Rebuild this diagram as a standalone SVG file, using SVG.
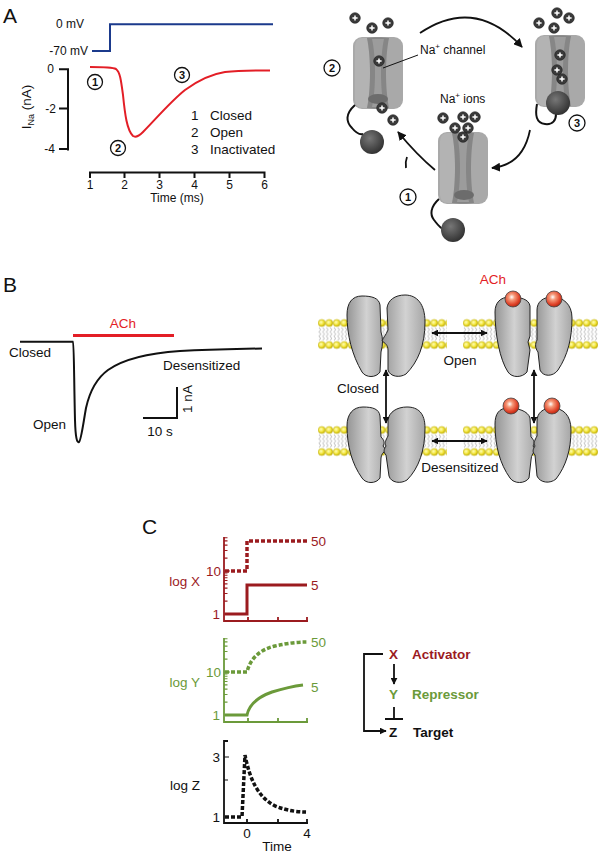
<svg xmlns="http://www.w3.org/2000/svg" xmlns:xlink="http://www.w3.org/1999/xlink" width="600" height="854" viewBox="0 0 600 854">
<style>
text{font-family:"Liberation Sans",Arial,sans-serif;fill:#111}
.lbl{font-size:21px}
.t12{font-size:12px}
.t13{font-size:13.5px}
.circ{font-size:11px;font-weight:bold;text-anchor:middle}
.cnum{fill:#fff;stroke:#111;stroke-width:1.3}
.ax{fill:none;stroke:#111;stroke-width:2}
.conn{fill:none;stroke:#111;stroke-width:1.8}
.sub{fill:url(#subg);stroke:#222;stroke-width:1}
.ach{fill:url(#achg);stroke:#444;stroke-width:0.8}
.red{fill:#e31e26}
.dred{fill:#9b1b1f}
.grn{fill:#6b9a3a}
</style>
<defs>
<marker id="ah" viewBox="0 0 10 10" refX="9" refY="5" markerWidth="9" markerHeight="9" markerUnits="userSpaceOnUse" orient="auto-start-reverse"><path d="M0,0 L10,5 L0,10 z" fill="#111"/></marker>
<marker id="ahs" viewBox="0 0 10 10" refX="9" refY="5" markerWidth="7" markerHeight="7" markerUnits="userSpaceOnUse" orient="auto-start-reverse"><path d="M0,0 L10,5 L0,10 z" fill="#111"/></marker>
<linearGradient id="subg" x1="0" y1="0" x2="1" y2="0"><stop offset="0" stop-color="#959595"/><stop offset="0.55" stop-color="#d2d2d2"/><stop offset="1" stop-color="#a6a6a6"/></linearGradient>
<radialGradient id="achg" cx="0.42" cy="0.38" r="0.62"><stop offset="0" stop-color="#ffffff"/><stop offset="0.3" stop-color="#f59a7a"/><stop offset="0.75" stop-color="#e0442a"/><stop offset="1" stop-color="#b82a14"/></radialGradient>
<radialGradient id="headg" cx="0.4" cy="0.4" r="0.6"><stop offset="0" stop-color="#ffffc0"/><stop offset="0.6" stop-color="#f3e53a"/><stop offset="1" stop-color="#c9b600"/></radialGradient>
<radialGradient id="ballg" cx="0.4" cy="0.35" r="0.65"><stop offset="0" stop-color="#777"/><stop offset="1" stop-color="#333"/></radialGradient>
<pattern id="heads" patternUnits="userSpaceOnUse" width="7.5" height="9"><circle cx="3.75" cy="4.5" r="3.5" fill="url(#headg)" stroke="#b5a300" stroke-width="0.5"/></pattern>
<pattern id="tails" patternUnits="userSpaceOnUse" width="3.75" height="13"><path d="M1,0 l1.6,2.2 l-1.6,2.2 l1.6,2.2 l-1.6,2.2 l1.6,2.2 l-1.6,2" fill="none" stroke="#8a8a8a" stroke-width="0.6"/></pattern>
<g id="chanbody">
<rect x="0" y="0" width="50" height="72" rx="9" fill="#a9a9a9"/>
<path d="M2,10 C2,4 5,1 10,1 L14,1 C18,20 18,52 14,71 L10,71 C5,71 2,68 2,62 Z" fill="#b3b3b3"/>
<path d="M14,1 C20,0 30,0 36,1 C32,20 32,52 36,71 C30,72 20,72 14,71 C18,52 18,20 14,1Z" fill="#868686"/>
<path d="M19,2 L31,2 C27,20 27,52 31,70 L19,70 C23,52 23,20 19,2Z" fill="#9c9c9c"/>
</g>
<g id="ion"><circle r="5.3" fill="#3a3a3a" stroke="#1e1e1e" stroke-width="0.6"/><path d="M-2.6,0 H2.6 M0,-2.6 V2.6" stroke="#fff" stroke-width="1.5"/></g>
<g id="logaxis" fill="none" stroke="currentColor" stroke-width="1.8">
<path d="M224,537 V621 H308 M248,621 v-4 M278,621 v-4 M307,621 v-4"/>
<path stroke-width="1.1" d="M224,614h6 M224,571h6 M224,601.1h3.5 M224,593.5h3.5 M224,588.1h3.5 M224,583.9h3.5 M224,580.5h3.5 M224,577.7h3.5 M224,575.2h3.5 M224,573h3.5 M224,558.1h3.5 M224,550.5h3.5 M224,545.1h3.5 M224,540.9h3.5 M224,537.8h3.5"/>
</g>
</defs>
<rect width="600" height="854" fill="#fff"/>

<!-- Panel A left -->
<g id="panelA-plot">
<text class="lbl" x="3" y="23">A</text>
<text class="t12" x="84" y="28" text-anchor="end">0 mV</text>
<text class="t12" x="88" y="55" text-anchor="end">-70 mV</text>
<path d="M92,51 H110 V24.3 H273" fill="none" stroke="#1b3a8c" stroke-width="2"/>
<path class="ax" d="M59,69.3 H68 V150.5 M59,108.5 H68 M59,149 H68"/>
<text class="t12" x="54" y="73" text-anchor="end">0</text>
<text class="t12" x="56" y="113" text-anchor="end">-2</text>
<text class="t12" x="55" y="153" text-anchor="end">-4</text>
<text class="t13" transform="translate(31,107) rotate(-90)" text-anchor="middle">I<tspan font-size="9" dy="3">Na</tspan><tspan dy="-3"> (nA)</tspan></text>
<path d="M90,67 C100,67 112,67 116,69 C120,72 121,80 123,95 C125,115 127,130 133,136 C136,138 139,136 143,132 C155,120 170,102 185,90 C200,79 212,74 225,72 C240,70.5 255,70.5 270,70.5" fill="none" stroke="#e31e26" stroke-width="2"/>
<circle class="cnum" cx="95" cy="82" r="7.5"/><text class="circ" x="95" y="86">1</text>
<circle class="cnum" cx="118" cy="148" r="7.5"/><text class="circ" x="118" y="152">2</text>
<circle class="cnum" cx="182" cy="75" r="7.5"/><text class="circ" x="182" y="79">3</text>
<text class="t13" x="191" y="120">1</text><text class="t13" x="210" y="120">Closed</text>
<text class="t13" x="191" y="137">2</text><text class="t13" x="210" y="137">Open</text>
<text class="t13" x="191" y="154">3</text><text class="t13" x="210" y="154">Inactivated</text>
<path class="ax" d="M90,178 V172.5 H264.5 V178 M124.5,172.5 V178 M159.5,172.5 V178 M194.5,172.5 V178 M229.5,172.5 V178"/>
<g class="t12" text-anchor="middle">
<text class="t12" x="90" y="189" text-anchor="middle">1</text>
<text class="t12" x="124.5" y="189" text-anchor="middle">2</text>
<text class="t12" x="159.5" y="189" text-anchor="middle">3</text>
<text class="t12" x="194.5" y="189" text-anchor="middle">4</text>
<text class="t12" x="229.5" y="189" text-anchor="middle">5</text>
<text class="t12" x="264.5" y="189" text-anchor="middle">6</text>
</g>
<text class="t12" x="177" y="202" text-anchor="middle">Time (ms)</text>
</g>

<!-- Panel A right: channel cycle -->
<g id="connectors-A">
<path class="conn" d="M420,33 Q475,-4 522,47" marker-end="url(#ah)"/>
<path class="conn" d="M530,130 Q523,165 492,168" marker-end="url(#ah)"/>
<path class="conn" d="M435,170 Q417,155 398,132" marker-end="url(#ah)"/>
<path class="conn" d="M406,168 Q405,162 407,157"/>
</g>
<g id="channel-open">
<use href="#chanbody" transform="translate(353,37)"/>
<ellipse cx="378" cy="99" rx="10" ry="5" fill="#6c6c6c"/>
<path d="M355,105 C345,114 346,122 352,128 C356,133 359,135 363,134" fill="none" stroke="#111" stroke-width="2"/>
<circle cx="372" cy="142" r="12" fill="url(#ballg)"/>
<use href="#ion" x="355" y="18"/><use href="#ion" x="372" y="28"/><use href="#ion" x="388" y="23"/>
<use href="#ion" x="379" y="61"/><use href="#ion" x="382" y="108"/><use href="#ion" x="393" y="120"/>
<circle class="cnum" cx="332" cy="68" r="8"/><text class="circ" x="332" y="72">2</text>
<path d="M383,68 L418,55" stroke="#111" stroke-width="1"/>
<text class="t12" x="420" y="54">Na<tspan font-size="8" dy="-5">+</tspan><tspan dy="5"> channel</tspan></text>
</g>
<g id="channel-inactivated">
<use href="#chanbody" transform="translate(535,35)"/>
<path d="M537,104 C535,115 536,123 545,124 C553,125 556,120 556,114" fill="none" stroke="#111" stroke-width="2"/>
<circle cx="558" cy="103" r="12" fill="url(#ballg)"/>
<use href="#ion" x="557" y="13"/><use href="#ion" x="569" y="18"/><use href="#ion" x="539" y="23"/><use href="#ion" x="554" y="28"/>
<use href="#ion" x="560" y="55"/><use href="#ion" x="557" y="70"/><use href="#ion" x="562" y="79"/>
<circle class="cnum" cx="577" cy="123" r="8"/><text class="circ" x="577" y="127">3</text>
</g>
<g id="channel-closed">
<use href="#chanbody" transform="translate(438,132)"/>
<ellipse cx="464" cy="195" rx="10" ry="5" fill="#6c6c6c"/>
<path d="M439,199 C430,207 430,215 434,220 C438,225 440,228 443,229" fill="none" stroke="#111" stroke-width="2"/>
<circle cx="453" cy="230" r="12" fill="url(#ballg)"/>
<use href="#ion" x="443" y="118"/><use href="#ion" x="463" y="117"/><use href="#ion" x="475" y="117"/>
<use href="#ion" x="455" y="128"/><use href="#ion" x="468" y="128"/><use href="#ion" x="463" y="137"/>
<text class="t12" x="440" y="103">Na<tspan font-size="8" dy="-5">+</tspan><tspan dy="5"> ions</tspan></text>
<circle class="cnum" cx="408" cy="197" r="8"/><text class="circ" x="408" y="201">1</text>
</g>

<!-- Panel B left -->
<g id="panelB-trace">
<text class="lbl" x="3" y="292">B</text>
<path d="M73,335.5 H174" stroke="#e31e26" stroke-width="3"/>
<text class="t13 red" x="123" y="328" text-anchor="middle">ACh</text>
<path d="M20,341.7 L73,341.7 C74,342 74,380 75,420 C75.5,438 77,443 79,442 C81,441 83,425 86,408 C90,390 97,378 108,370 C125,358 150,353 180,351 C215,349 240,349 262,348.5" fill="none" stroke="#111" stroke-width="2"/>
<text class="t13" x="9" y="357">Closed</text>
<text class="t13" x="163" y="370">Desensitized</text>
<text class="t13" x="33" y="429">Open</text>
<path d="M143,418 H177 V387" fill="none" stroke="#111" stroke-width="2"/>
<text class="t13" x="160" y="436" text-anchor="middle">10 s</text>
<text class="t13" transform="translate(192,399) rotate(-90)" text-anchor="middle">1 nA</text>
</g>

<!-- Panel B right: membranes -->
<g id="membranes">
<rect transform="translate(318,327.5)" width="129" height="13" fill="url(#tails)"/>
<rect transform="translate(318,318.5)" width="129" height="9" fill="url(#heads)"/>
<rect transform="translate(318,340.5)" width="129" height="9" fill="url(#heads)"/>
<rect transform="translate(463,327.5)" width="135" height="13" fill="url(#tails)"/>
<rect transform="translate(463,318.5)" width="135" height="9" fill="url(#heads)"/>
<rect transform="translate(463,340.5)" width="135" height="9" fill="url(#heads)"/>
<rect transform="translate(318,434.5)" width="129" height="13" fill="url(#tails)"/>
<rect transform="translate(318,425.5)" width="129" height="9" fill="url(#heads)"/>
<rect transform="translate(318,447.5)" width="129" height="9" fill="url(#heads)"/>
<rect transform="translate(463,434.5)" width="135" height="13" fill="url(#tails)"/>
<rect transform="translate(463,425.5)" width="135" height="9" fill="url(#heads)"/>
<rect transform="translate(463,447.5)" width="135" height="9" fill="url(#heads)"/>
</g>
<g id="achr-closed">
<path class="sub" d="M362,296 C352,296 347,303 347,315 C347,335 352,355 362,372 C366,378 376,378 380,372 L381,352 C383,345 383,338 381,332 L380,305 C379,298 372,296 362,296 Z"/>
<path class="sub" d="M405,295 C395,295 388,300 387,308 L388,330 C386,335 383,338 382,341 C385,343 388,345 388,350 L388,370 C390,377 400,378 406,374 C418,362 425,345 425,322 C425,304 417,295 405,295 Z"/>
</g>
<g id="achr-open">
<path class="sub" d="M510,297 C500,297 495,303 495,312 C495,335 500,360 508,372 C512,378 522,378 527,372 L530,350 L528,342 L530,336 L530,306 C529,299 520,297 510,297 Z"/>
<path class="sub" d="M552,297 C543,297 537,302 537,310 L537,340 C535,344 535,348 538,352 L540,370 C543,377 553,377 558,370 C568,355 572,338 572,318 C572,304 563,297 552,297 Z"/>
<circle class="ach" cx="513" cy="299" r="8"/><circle class="ach" cx="554" cy="299" r="8"/>
<text class="t13 red" x="493" y="284" text-anchor="middle">ACh</text>
</g>
<g id="achr-resting">
<path class="sub" d="M363,407 C353,407 347,414 347,426 C347,446 352,464 362,478 C366,484 376,484 380,478 L381,458 C381,454 384,452 386,450 L383,446 C385,443 384,440 381,437 L380,416 C379,409 373,407 363,407 Z"/>
<path class="sub" d="M407,407 C397,407 389,412 388,420 L388,436 C386,440 384,443 386,446 C384,449 383,452 386,455 L389,476 C391,483 401,484 407,480 C419,468 425,450 425,428 C425,413 418,407 407,407 Z"/>
</g>
<g id="achr-desensitized">
<path class="sub" d="M508,408 C499,408 495,414 495,424 C495,446 500,464 510,478 C514,484 525,484 529,478 L531,460 C531,455 534,452 536,450 L533,446 C535,443 534,440 531,437 L530,418 C528,411 518,408 508,408 Z"/>
<path class="sub" d="M552,408 C543,408 537,413 537,421 L537,436 C535,440 533,443 535,446 C533,449 532,452 535,455 L537,476 C540,483 550,484 556,479 C566,466 571,450 571,430 C571,415 563,408 552,408 Z"/>
<circle class="ach" cx="511" cy="406" r="8"/><circle class="ach" cx="552" cy="406" r="8"/>
</g>
<g id="connectors-B">
<path class="conn" d="M432,333 H487" marker-start="url(#ahs)" marker-end="url(#ahs)"/>
<path class="conn" d="M432,441 H487" marker-start="url(#ahs)" marker-end="url(#ahs)"/>
<path class="conn" d="M386,370 V423" marker-start="url(#ahs)" marker-end="url(#ahs)"/>
<path class="conn" d="M534,370 V423" marker-start="url(#ahs)" marker-end="url(#ahs)"/>
</g>
<g id="labels-B">
<text class="t13" x="460" y="365" text-anchor="middle">Open</text>
<text class="t13" x="337" y="393">Closed</text>
<text class="t13" x="460" y="472" text-anchor="middle">Desensitized</text>
</g>

<!-- Panel C -->
<g id="plot-X">
<text class="lbl" x="142" y="534" font-size="22">C</text>
<use href="#logaxis" style="color:#9b1b1f"/>
<path d="M225,571 H247 V541 H307" fill="none" stroke="#9b1b1f" stroke-width="3.5" stroke-dasharray="4,2"/>
<path d="M225,614 H247 V585 H307" fill="none" stroke="#9b1b1f" stroke-width="3"/>
<text class="t13 dred" x="221" y="576" text-anchor="end">10</text>
<text class="t13 dred" x="220" y="619" text-anchor="end">1</text>
<text class="t13 dred" x="200" y="586" text-anchor="end">log X</text>
<text class="t13 dred" x="311" y="546">50</text>
<text class="t13 dred" x="311" y="590">5</text>
</g>
<g id="plot-Y">
<use href="#logaxis" transform="translate(0,101)" style="color:#6b9a3a"/>
<path d="M225,672 H247 C250,660 258,650 275,646 C288,643 298,642 307,642" fill="none" stroke="#6b9a3a" stroke-width="3.5" stroke-dasharray="4,2"/>
<path d="M225,715 H247 C249,705 258,697 272,692 C285,688 295,686 303,685" fill="none" stroke="#6b9a3a" stroke-width="3"/>
<text class="t13 grn" x="221" y="677" text-anchor="end">10</text>
<text class="t13 grn" x="220" y="720" text-anchor="end">1</text>
<text class="t13 grn" x="200" y="687" text-anchor="end">log Y</text>
<text class="t13 grn" x="311" y="647">50</text>
<text class="t13 grn" x="311" y="692">5</text>
</g>
<g id="plot-Z">
<path d="M228,741 H224 V823 H308 M247,823 v-4 M278,823 v-4 M307,823 v-4" fill="none" stroke="#111" stroke-width="1.8"/>
<path d="M224,757 h5 M224,780 h4" stroke="#111" stroke-width="1.2"/>
<path d="M225,817 L242,817 L245,755 C250,780 258,797 275,806 C288,811 298,812 307,812" fill="none" stroke="#111" stroke-width="3.5" stroke-dasharray="4,2"/>
<text class="t13" x="220" y="762" text-anchor="end">3</text>
<text class="t13" x="220" y="822" text-anchor="end">1</text>
<text class="t13" x="200" y="790" text-anchor="end">log Z</text>
<text class="t13" x="247" y="838" text-anchor="middle">0</text>
<text class="t13" x="307" y="838" text-anchor="middle">4</text>
<text class="t13" x="277" y="851" text-anchor="middle">Time</text>
</g>
<g id="circuit-C">
<g id="node-X"><text class="t13 dred" x="389" y="659" font-weight="bold">X</text><text class="t13 dred" x="412" y="659" font-weight="bold">Activator</text></g>
<g id="node-Y"><text class="t13 grn" x="389" y="699" font-weight="bold">Y</text><text class="t13 grn" x="412" y="699" font-weight="bold">Repressor</text></g>
<g id="node-Z"><text class="t13" x="389" y="737" font-weight="bold">Z</text><text class="t13" x="413" y="737" font-weight="bold">Target</text></g>
<g id="connectors-C">
<path d="M394,664 V684" fill="none" stroke="#111" stroke-width="1.8" marker-end="url(#ahs)"/>
<path d="M394,707 V719 M385,719 H403" fill="none" stroke="#111" stroke-width="1.8"/>
<path d="M383,654 H364 V731 H386" fill="none" stroke="#111" stroke-width="1.8" marker-end="url(#ahs)"/>
</g>
</g>
</svg>
